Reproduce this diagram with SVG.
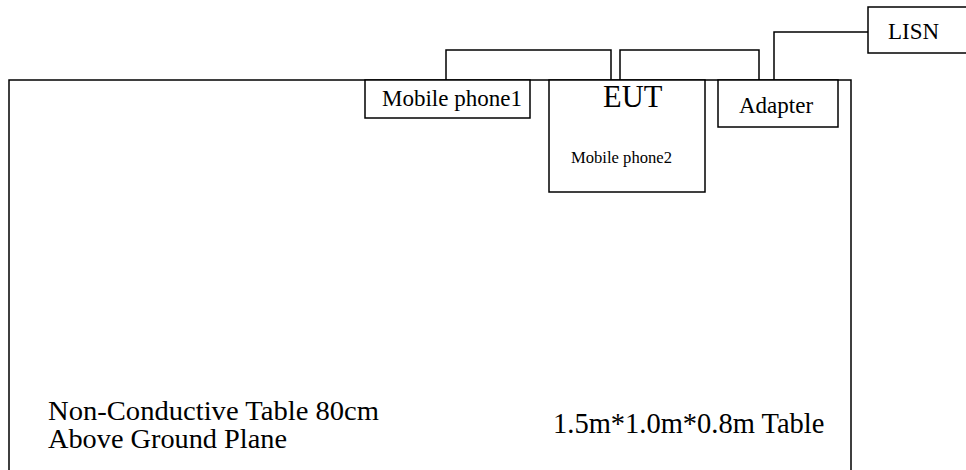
<svg xmlns="http://www.w3.org/2000/svg" width="966" height="470" viewBox="0 0 966 470">
<style>
.b{fill:#fff;stroke:#000;stroke-width:1.5}
.w{fill:none;stroke:#000;stroke-width:1.5}
text{font-family:"Liberation Serif","Times New Roman",serif;fill:#000}
</style>
<rect width="966" height="470" fill="#fff"/>
<g id="table">
<path class="w" d="M9,472 V80 H851 V472"/>
<text x="48" y="420" font-size="27" textLength="331" lengthAdjust="spacingAndGlyphs">Non-Conductive Table 80cm</text>
<text x="48" y="448" font-size="27" textLength="239" lengthAdjust="spacingAndGlyphs">Above Ground Plane</text>
<text x="553" y="433" font-size="28.5">1.5m*1.0m*0.8m Table</text>
</g>
<g id="connectors">
<path class="w" d="M446,80 V50 H611 V80"/>
<path class="w" d="M620,80 V50 H759 V80"/>
<path class="w" d="M774,80 V32 H870"/>
</g>
<g id="mobile1">
<rect class="b" x="365" y="80" width="165" height="38"/>
<text x="382" y="106" font-size="23">Mobile phone1</text>
</g>
<g id="eut">
<rect class="b" x="549" y="80" width="156" height="112"/>
<text x="603" y="107" font-size="30.5">EUT</text>
<text x="571" y="163" font-size="16.6">Mobile phone2</text>
</g>
<g id="adapter">
<rect class="b" x="718" y="80" width="120" height="47"/>
<text x="739" y="113" font-size="23">Adapter</text>
</g>
<g id="lisn">
<rect class="b" x="868" y="7" width="100" height="46"/>
<text x="888" y="39" font-size="23">LISN</text>
</g>
</svg>
